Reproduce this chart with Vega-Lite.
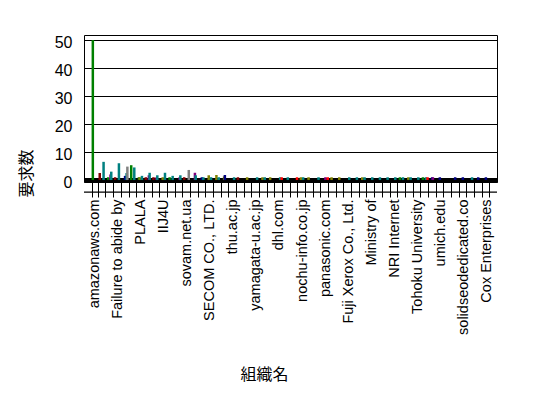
{
  "$schema": "https://vega.github.io/schema/vega-lite/v6.json",
  "autosize": "none",
  "width": 413,
  "height": 147,
  "padding": {"left": 84, "top": 35, "right": 51, "bottom": 216},
  "background": "white",
  "config": {
    "view": {"stroke": "black", "strokeWidth": 1},
    "font": "Liberation Sans",
    "axisY": {
      "titleFont": "Noto Sans CJK JP",
      "titleFontSize": 16,
      "titleFontWeight": "normal",
      "titleColor": "black",
      "titleX": -50,
      "titleY": 138,
      "values": [0, 10, 20, 30, 40, 50],
      "grid": true,
      "gridColor": "black",
      "gridOpacity": 1,
      "ticks": false,
      "domain": false,
      "labelFontSize": 16,
      "labelColor": "black",
      "labelPadding": 12,
      "labelOffset": 2,
      "labelOverlap": false
    }
  },
  "datasets": {
    "bars": [
      {"org": "amazonaws.com", "s": "B", "v": 50},
      {"org": "~01", "s": "A", "v": 2.5}, {"org": "~01", "s": "F", "v": 6.5},
      {"org": "~02", "s": "B", "v": 1}, {"org": "~02", "s": "E", "v": 2}, {"org": "~02", "s": "F", "v": 3},
      {"org": "Failure to abide by", "s": "A", "v": 1}, {"org": "Failure to abide by", "s": "F", "v": 6},
      {"org": "~04", "s": "D", "v": 1.5}, {"org": "~04", "s": "F", "v": 2.5}, {"org": "~04", "s": "G", "v": 4.8},
      {"org": "~05", "s": "B", "v": 5.3}, {"org": "~05", "s": "F", "v": 4.5},
      {"org": "PLALA", "s": "B", "v": 1}, {"org": "PLALA", "s": "C", "v": 1}, {"org": "PLALA", "s": "F", "v": 1.5},
      {"org": "~07", "s": "A", "v": 1}, {"org": "~07", "s": "E", "v": 1.7}, {"org": "~07", "s": "F", "v": 2.6},
      {"org": "~08", "s": "A", "v": 1}, {"org": "~08", "s": "E", "v": 1}, {"org": "~08", "s": "F", "v": 1.7},
      {"org": "IIJ4U", "s": "C", "v": 1}, {"org": "IIJ4U", "s": "F", "v": 2.6},
      {"org": "~10", "s": "B", "v": 1}, {"org": "~10", "s": "F", "v": 1.5},
      {"org": "~11", "s": "E", "v": 1}, {"org": "~11", "s": "F", "v": 1.7},
      {"org": "sovam.net.ua", "s": "A", "v": 1}, {"org": "sovam.net.ua", "s": "G", "v": 3.6},
      {"org": "~13", "s": "E", "v": 2.6}, {"org": "~13", "s": "F", "v": 1.7},
      {"org": "~14", "s": "D", "v": 1}, {"org": "~14", "s": "F", "v": 1},
      {"org": "SECOM CO., LTD.", "s": "C", "v": 1.7}, {"org": "SECOM CO., LTD.", "s": "F", "v": 1},
      {"org": "~16", "s": "C", "v": 1.8}, {"org": "~16", "s": "F", "v": 1},
      {"org": "~17", "s": "C", "v": 1.3}, {"org": "~17", "s": "D", "v": 1.8},
      {"org": "thu.ac.jp", "s": "F", "v": 1},
      {"org": "~19", "s": "A", "v": 1},
      {"org": "~20", "s": "C", "v": 1},
      {"org": "yamagata-u.ac.jp", "s": "F", "v": 1},
      {"org": "~22", "s": "C", "v": 1}, {"org": "~22", "s": "F", "v": 1},
      {"org": "~23", "s": "C", "v": 1},
      {"org": "dhl.com", "s": "F", "v": 1}, {"org": "dhl.com", "s": "H", "v": 1},
      {"org": "~25", "s": "F", "v": 1},
      {"org": "~26", "s": "H", "v": 1},
      {"org": "nochu-info.co.jp", "s": "C", "v": 1}, {"org": "nochu-info.co.jp", "s": "F", "v": 1},
      {"org": "~28", "s": "C", "v": 1},
      {"org": "~29", "s": "F", "v": 1},
      {"org": "panasonic.com", "s": "E", "v": 1}, {"org": "panasonic.com", "s": "H", "v": 1},
      {"org": "~31", "s": "C", "v": 1},
      {"org": "~32", "s": "C", "v": 1},
      {"org": "Fuji Xerox Co., Ltd.", "s": "F", "v": 1},
      {"org": "~34", "s": "F", "v": 1},
      {"org": "~35", "s": "C", "v": 1}, {"org": "~35", "s": "F", "v": 1},
      {"org": "Ministry of", "s": "F", "v": 1},
      {"org": "~37", "s": "F", "v": 1},
      {"org": "~38", "s": "F", "v": 1},
      {"org": "NRI Internet", "s": "F", "v": 1},
      {"org": "~40", "s": "B", "v": 1}, {"org": "~40", "s": "F", "v": 1},
      {"org": "~41", "s": "C", "v": 1}, {"org": "~41", "s": "F", "v": 1},
      {"org": "Tohoku University", "s": "F", "v": 1},
      {"org": "~43", "s": "B", "v": 1}, {"org": "~43", "s": "F", "v": 1}, {"org": "~43", "s": "H", "v": 1},
      {"org": "~44", "s": "D", "v": 1}, {"org": "~44", "s": "E", "v": 1},
      {"org": "umich.edu", "s": "D", "v": 1},
      {"org": "~46", "s": "D", "v": 0},
      {"org": "~47", "s": "D", "v": 1},
      {"org": "solidseodedicated.co", "s": "D", "v": 1},
      {"org": "~49", "s": "F", "v": 1},
      {"org": "~50", "s": "D", "v": 1},
      {"org": "Cox Enterprises", "s": "D", "v": 1}
    ]
  },
  "layer": [
    {
      "data": {"values": [{}]},
      "mark": {"type": "rect", "color": "black"},
      "encoding": {
        "y": {"datum": 0.7, "type": "quantitative", "title": "要求数", "scale": {"domain": [-0.7, 51.8], "nice": false, "zero": false}},
        "y2": {"datum": -0.7}
      }
    },
    {
      "data": {"values": [{}]},
      "mark": {"type": "rule", "color": "black", "strokeWidth": 1.2, "clip": false},
      "encoding": {
        "y": {"datum": -4.3, "type": "quantitative", "title": "要求数"}
      }
    },
    {
      "data": {"name": "bars"},
      "mark": {"type": "bar", "width": 2.5},
      "encoding": {
        "x": {
          "field": "org",
          "type": "nominal",
          "sort": null,
          "scale": {"paddingInner": 0.2, "paddingOuter": 1.1},
          "axis": {
            "title": "組織名",
            "titleFont": "Noto Sans CJK JP",
            "titleFontSize": 16,
            "titleFontWeight": "normal",
            "titleColor": "black",
            "titleX": 180,
            "titleY": 184,
            "titleBaseline": "top",
            "domainColor": "black",
            "tickColor": "black",
            "tickBand": "extent",
            "tickSize": 15,
            "labelAngle": 270,
            "labelAlign": "right",
            "labelBaseline": "middle",
            "labelFontSize": 14.5,
            "labelColor": "black",
            "labelPadding": 2,
            "labelLimit": 0,
            "labelOverlap": false,
            "labelBound": false,
            "labelExpr": "substring(datum.value, 0, 1) == '~' ? '' : datum.value"
          }
        },
        "xOffset": {"field": "s", "type": "nominal", "scale": {"domain": ["A", "B", "C", "D", "E", "F", "G", "H"]}},
        "y": {"field": "v", "type": "quantitative", "title": "要求数"},
        "color": {
          "field": "s",
          "type": "nominal",
          "legend": null,
          "scale": {
            "domain": ["A", "B", "C", "D", "E", "F", "G", "H"],
            "range": ["#800000", "#008000", "#808000", "#000080", "#800080", "#008080", "#808080", "#FF0000"]
          }
        }
      }
    }
  ]
}
